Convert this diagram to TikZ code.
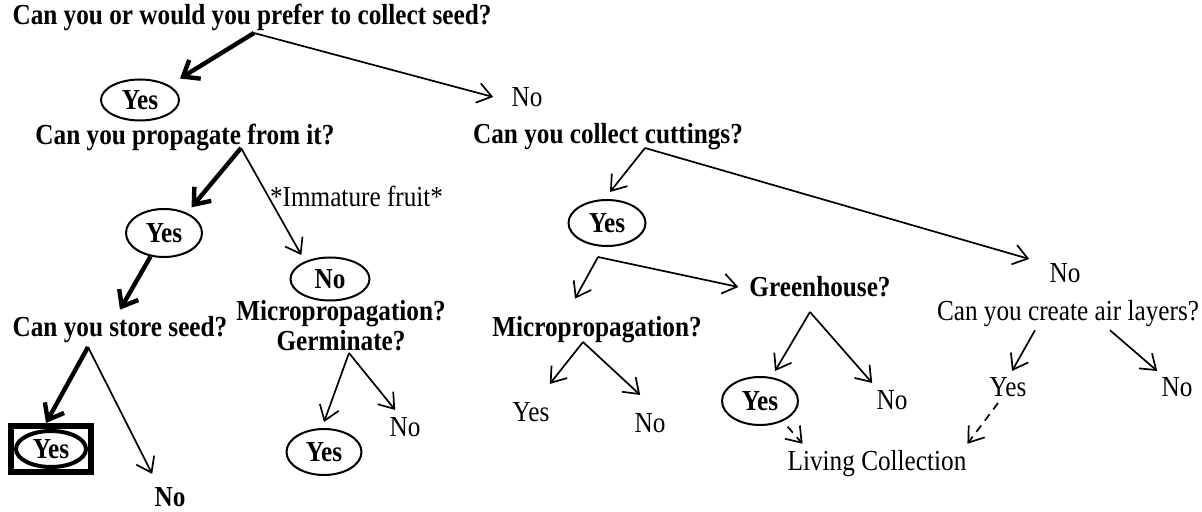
\documentclass[tikz,border=0pt]{standalone}
\usepackage{fontspec}
\setmainfont{Liberation Serif}[FakeStretch=0.87]
\usetikzlibrary{arrows.meta,shapes.geometric}

\begin{document}
\begin{tikzpicture}[x=0.5pt,y=-0.5pt,
  every node/.style={font=\fontsize{14.5pt}{15pt}\selectfont},
  q/.style={font=\fontsize{14.5pt}{15pt}\selectfont\bfseries, align=center},
  ans/.style={inner sep=2pt},
  oval/.style={ellipse, draw, line width=1pt, inner sep=0pt, font=\fontsize{14.5pt}{15pt}\selectfont\bfseries},
  arr/.style={line width=0.85pt, -{Straight Barb[length=7pt,width=10pt]}},
  thk/.style={line width=2.2pt, -{Straight Barb[length=7pt,width=11pt]}},
  dsh/.style={arr, dash pattern=on 4pt off 3pt}]
  \useasboundingbox (0,0) rectangle (1202,512);

  \node[q] (q1) at (252,17) {Can you or would you prefer to collect seed?};
  \node[q] (q2) at (185,137) {Can you propagate from it?};
  \node[q] (q5) at (608,137) {Can you collect cuttings?};
  \node[q] (q3) at (120,330) {Can you store seed?};
  \node[q] (q4) at (341,326) {Micropropagation?\\Germinate?};
  \node[q] (micro2) at (597,330) {Micropropagation?};
  \node[q] (green) at (820,287) {Greenhouse?};
  \node[q, inner sep=1pt] (no3) at (170,497) {No};
  \node (air) at (1068,314) {Can you create air layers?};
  \node (living) at (877,464) {Living Collection};

  \foreach \n/\t/\x/\y/\w/\h in {yes1/Yes/140/100/39/20.5, yes2/Yes/164/233/38/24, no2/No/330/279/39.5/21.5,
      yes3/Yes/607/223/38.5/23, yes4/Yes\hspace{8pt}/760/401/38/24, yes5/Yes/324/452/37.5/23}
    \node[oval, minimum width=\w pt, minimum height=\h pt] (\n) at (\x,\y) {\t};

  \node[draw, line width=3pt, minimum width=40pt, minimum height=23pt, inner sep=0pt] (yesbox) at (51,449) {};
  \node[oval, line width=2pt, minimum width=35pt, minimum height=18pt] (yes8) at (yesbox) {Yes};

  \foreach \n/\t/\x/\y in {no1/No/527/97, no4/No/405/427, yes6/Yes/531/412, no6/No/650/423,
      no7/No/892/400, no5/No/1065/273, yes7/Yes/1008/387, no8/No/1177/387}
    \node[ans] (\n) at (\x,\y) {\t};

  \coordinate (q1f) at (254,33);
  \coordinate (q2f) at (241,148);
  \coordinate (q3f) at (88,347);
  \coordinate (q4f) at (349,353);
  \coordinate (q5f) at (645,148);
  \coordinate (yes3f) at (598,257);
  \coordinate (micro2f) at (583,342);
  \coordinate (greenf) at (810,312);

  \draw[thk] (q1f) -- (yes1.north -| yes1.east);
  \draw[arr] (q1f) -- ([xshift=-7pt]no1.west);
  \draw[thk] (q2f) -- ([yshift=4pt]yes2.north east);
  \draw[arr] (q2f) -- ([yshift=4pt]no2.north west)
    node[pos=0.45, anchor=west, inner sep=0.5pt] {*Immature fruit*};
  \draw[thk] (yes2) -- (q3.north);
  \draw[thk] (q3f) -- ([xshift=-2.5pt]yesbox.north);
  \draw[arr] (q3f) -- ([yshift=5.5pt]no3.north west);
  \draw[arr] (q4f) -- ([yshift=3pt]yes5.north);
  \draw[arr] (q4f) -- ([shift={(5pt,1.5pt)}]no4.north west);
  \draw[arr] (q5f) -- ([shift={(1.5pt,3.5pt)}]yes3.north);
  \draw[arr] (q5f) -- ([xshift=-8pt]no5.north west);
  \draw[arr] (yes3f) -- ([shift={(-11pt,5.5pt)}]micro2.north);
  \draw[arr] (yes3f) -- ([xshift=-2pt]green.west);
  \draw[arr] (micro2f) -- ([shift={(-2pt,7pt)}]yes6.north east);
  \draw[arr] (micro2f) -- ([shift={(5pt,7pt)}]no6.north west);
  \draw[arr] (greenf) -- ([shift={(7.5pt,2.5pt)}]yes4.north);
  \draw[arr] (greenf) -- ([yshift=1.5pt]no7.north west);
  \draw[arr] ([shift={(-16.5pt,2pt)}]air.south) -- ([shift={(2pt,1pt)}]yes7.north);
  \draw[arr] ([shift={(21pt,2pt)}]air.south) -- ([yshift=1pt]no8.north west);
  \draw[dsh] ([yshift=-4pt]yes4.south east) -- ([xshift=11pt]living.north west);
  \draw[dsh] ([shift={(-5pt,-1pt)}]yes7.south) -- ([xshift=-3pt]living.north east);
\end{tikzpicture}
\end{document}
